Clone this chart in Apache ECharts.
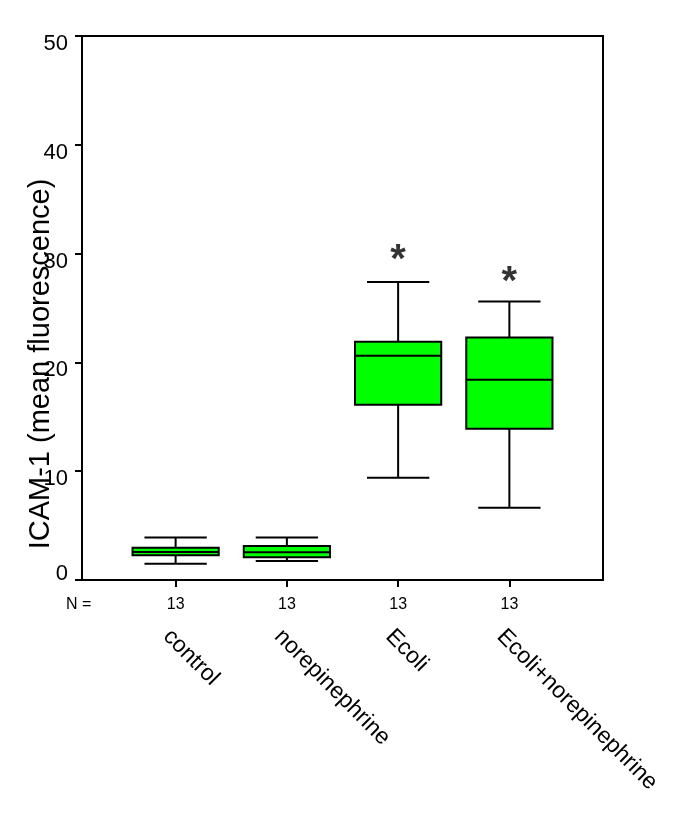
<!DOCTYPE html>
<html>
<head>
<meta charset="utf-8">
<script src="https://cdn.jsdelivr.net/npm/echarts@6/dist/echarts.min.js"></script>
<style>
html, body { margin: 0; padding: 0; background: #fff; }
#chart { width: 685px; height: 833px; }
</style>
</head>
<body>
<div id="chart"></div>
<script>
// groups and sample sizes
var groups = ['control', 'norepinephrine', 'Ecoli', 'Ecoli+norepinephrine'];
var nCounts = [13, 13, 13, 13];
// box stats per group: min, q1, median, q3, max
var lowWhisker = [1.5, 1.75, 9.4, 6.65];
var q1 = [2.27, 2.08, 16.1, 13.9];
var median = [2.57, 2.54, 20.6, 18.4];
var q3 = [2.97, 3.12, 21.9, 22.3];
var highWhisker = [3.9, 3.9, 27.4, 25.6];
// significance marks (group index, height)
var sigGroups = [2, 3];
var sigLevels = [29.3, 27.3];
var yTicks = [0, 10, 20, 30, 40, 50];

var font = 'Liberation Sans, Arial, Helvetica, sans-serif';

var boxData = groups.map(function (g, i) {
    return [i, lowWhisker[i], q1[i], median[i], q3[i], highWhisker[i]];
});
var sigData = sigGroups.map(function (g, i) { return [g, sigLevels[i]]; });

function renderBox(params, api) {
    var x = api.value(0);
    var lo = api.coord([x, api.value(1)]);
    var b1 = api.coord([x, api.value(2)]);
    var md = api.coord([x, api.value(3)]);
    var b3 = api.coord([x, api.value(4)]);
    var hi = api.coord([x, api.value(5)]);
    var band = api.size([1, 0])[0];
    var bw = band * 0.775 / 2;
    var cw = band * 0.56 / 2;
    var line = { stroke: '#000', lineWidth: 2, fill: null };
    return {
        type: 'group',
        children: [
            { type: 'line', shape: { x1: hi[0], y1: hi[1], x2: b3[0], y2: b3[1] }, style: line },
            { type: 'line', shape: { x1: b1[0], y1: b1[1], x2: lo[0], y2: lo[1] }, style: line },
            { type: 'line', shape: { x1: hi[0] - cw, y1: hi[1], x2: hi[0] + cw, y2: hi[1] }, style: line },
            { type: 'line', shape: { x1: lo[0] - cw, y1: lo[1], x2: lo[0] + cw, y2: lo[1] }, style: line },
            { type: 'rect', shape: { x: b3[0] - bw, y: b3[1], width: bw * 2, height: b1[1] - b3[1] },
              style: { fill: '#00ff00', stroke: '#000', lineWidth: 2 } },
            { type: 'line', shape: { x1: md[0] - bw, y1: md[1], x2: md[0] + bw, y2: md[1] }, style: line }
        ]
    };
}

var chart = echarts.init(document.getElementById('chart'));
chart.setOption({
    backgroundColor: '#fff',
    animation: false,
    textStyle: { fontFamily: font },
    grid: [
        { left: 82, right: 82, top: 36, bottom: 253, show: true, borderColor: '#000', borderWidth: 2 },
        { left: 120, right: 120, top: 36, bottom: 253 },
        // names sit a little left of the ticks in the original
        { left: 111, right: 129, top: 36, bottom: 253 }
    ],
    graphic: [
        { type: 'text', x: 41, y: 364, rotation: Math.PI / 2,
          style: { text: 'ICAM-1 (mean fluorescence)', font: '29px ' + font, fill: '#000',
                   textAlign: 'center', textVerticalAlign: 'middle' } },
        { type: 'text', x: 66, y: 605,
          style: { text: 'N =', font: '16px ' + font, fill: '#000', textAlign: 'left', textVerticalAlign: 'middle' } }
    ],
    xAxis: [
        { gridIndex: 0, type: 'value', min: 0, max: 1, show: false },
        { gridIndex: 1, type: 'category', data: groups, boundaryGap: true,
          axisLine: { show: false },
          axisTick: { show: true, alignWithLabel: true, length: 7, lineStyle: { color: '#000', width: 2 } },
          axisLabel: { margin: 17, color: '#000', fontSize: 16,
                       formatter: function (v, i) { return String(nCounts[i]); } },
          splitLine: { show: false } },
        { gridIndex: 2, type: 'category', data: groups, boundaryGap: true, position: 'bottom', offset: 53,
          axisLine: { show: false }, axisTick: { show: false },
          axisLabel: { rotate: -45, margin: 0, color: '#000', fontSize: 23 } }
    ],
    yAxis: [
        { gridIndex: 0, type: 'value', min: 0, max: 50, interval: 10,
          axisLine: { show: true, lineStyle: { color: '#000', width: 2 } },
          axisTick: { show: true, length: 7, lineStyle: { color: '#000', width: 2 } },
          splitLine: { show: false },
          axisLabel: { margin: 14, color: '#000', fontSize: 22,
                       formatter: function (v) { return yTicks.indexOf(v) === 0 ? '{z|' + v + '}' : '{n|' + v + '}'; },
                       rich: { n: { fontSize: 22, padding: [16, 0, 0, 0] },
                               z: { fontSize: 22, padding: [0, 0, 12, 0] } } } },
        { gridIndex: 1, type: 'value', min: 0, max: 50, interval: 10, show: false },
        { gridIndex: 2, type: 'value', min: 0, max: 50, interval: 10, show: false }
    ],
    series: [
        { type: 'custom', xAxisIndex: 1, yAxisIndex: 1, renderItem: renderBox, data: boxData,
          encode: { x: 0, y: [1, 2, 3, 4, 5] } },
        { type: 'scatter', xAxisIndex: 1, yAxisIndex: 1, data: sigData, symbolSize: 1,
          itemStyle: { color: 'rgba(0,0,0,0)' },
          label: { show: true, position: 'inside', formatter: '*', color: '#000', fontSize: 40, fontWeight: 'bold' } }
    ]
});
</script>
</body>
</html>
